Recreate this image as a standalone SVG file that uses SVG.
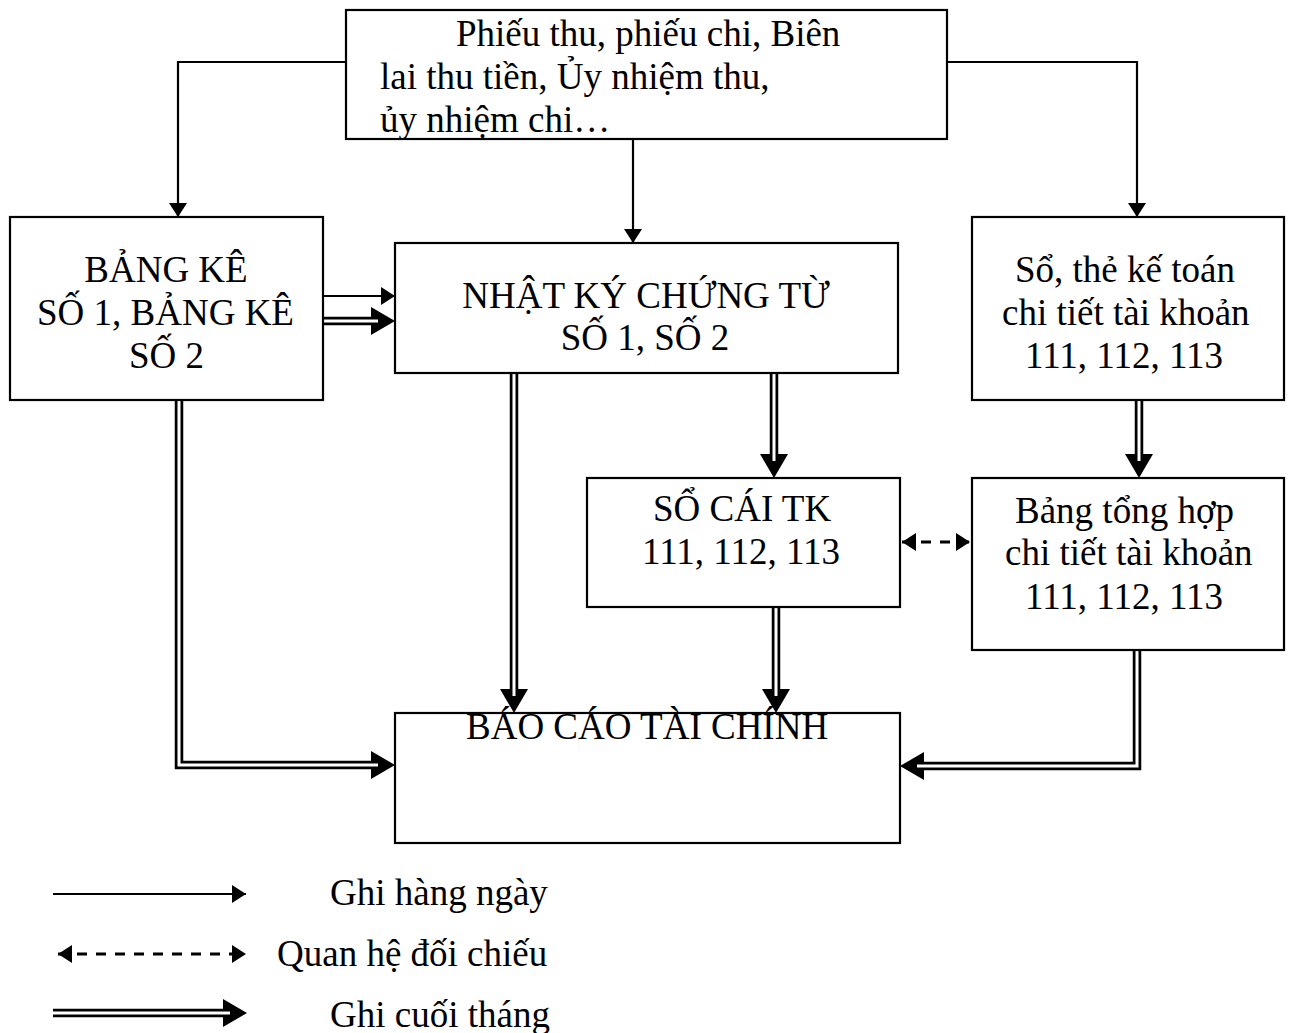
<svg xmlns="http://www.w3.org/2000/svg" width="1291" height="1033" viewBox="0 0 1291 1033">
<style>
.box{fill:#fff;stroke:#000;stroke-width:2.2}
.t{font-family:"Liberation Serif","Times New Roman",serif;font-size:37px;fill:#000}
.m{text-anchor:middle}
.s{fill:none;stroke:#000;stroke-width:2.2}
.d{fill:none;stroke:#000;stroke-width:3;stroke-dasharray:10 9}
.dblo{fill:none;stroke:#000;stroke-width:8.5;stroke-linejoin:miter}
.dbli{fill:none;stroke:#fff;stroke-width:3;stroke-linejoin:miter}
</style>
<defs>
<marker id="a1" markerUnits="userSpaceOnUse" markerWidth="16" markerHeight="20" refX="14" refY="9" orient="auto">
<path d="M0,0 L14,9 L0,18 Z" fill="#000"/>
</marker>
<marker id="a2" markerUnits="userSpaceOnUse" markerWidth="26" markerHeight="30" refX="0" refY="14" orient="auto">
<path d="M0,0 L24,14 L0,28 Z" fill="#000"/>
</marker>
<marker id="ad" markerUnits="userSpaceOnUse" markerWidth="16" markerHeight="20" refX="14" refY="9" orient="auto-start-reverse">
<path d="M0,0 L14,9 L0,18 Z" fill="#000"/>
</marker>
</defs>
<g id="connectors">
<path class="s" d="M346,62 H178 V217" marker-end="url(#a1)"/>
<path class="s" d="M947,62 H1137 V217" marker-end="url(#a1)"/>
<path class="s" d="M633,139 V243" marker-end="url(#a1)"/>
<path class="s" d="M323,296 H395" marker-end="url(#a1)"/>
<path class="dblo" d="M323,321 H371" marker-end="url(#a2)"/>
<path class="dbli" d="M323,321 H378"/>
<path class="dblo" d="M514,373 V689" marker-end="url(#a2)"/>
<path class="dbli" d="M514,373 V696"/>
<path class="dblo" d="M774,373 V454" marker-end="url(#a2)"/>
<path class="dbli" d="M774,373 V461"/>
<path class="dblo" d="M776,607 V689" marker-end="url(#a2)"/>
<path class="dbli" d="M776,607 V696"/>
<path class="dblo" d="M1139,400 V454" marker-end="url(#a2)"/>
<path class="dbli" d="M1139,400 V461"/>
<path class="dblo" d="M179,400 V765 H371" marker-end="url(#a2)"/>
<path class="dbli" d="M179,400 V765 H378"/>
<path class="dblo" d="M1137,650 V766 H924" marker-end="url(#a2)"/>
<path class="dbli" d="M1137,650 V766 H917"/>
<path class="d" d="M902,542 H970" marker-start="url(#ad)" marker-end="url(#ad)"/>
</g>
<g id="n-top">
<rect class="box" x="346" y="10" width="601" height="129"/>
<text class="t" x="456" y="46">Phiếu thu, phiếu chi, Biên</text>
<text class="t" x="380" y="89">lai thu tiền, Ủy nhiệm thu,</text>
<text class="t" x="380" y="132">ủy nhiệm chi…</text>
</g>
<g id="n-bangke">
<rect class="box" x="10" y="217" width="313" height="183"/>
<text class="t m" x="166" y="282">BẢNG KÊ</text>
<text class="t" x="37" y="325">SỐ 1, BẢNG KÊ</text>
<text class="t" x="129" y="368">SỐ 2</text>
</g>
<g id="n-nhatky">
<rect class="box" x="395" y="243" width="503" height="130"/>
<text class="t m" x="646" y="308">NHẬT KÝ CHỨNG TỪ</text>
<text class="t m" x="645" y="350">SỐ 1, SỐ 2</text>
</g>
<g id="n-sothe">
<rect class="box" x="972" y="217" width="312" height="183"/>
<text class="t" x="1015" y="282">Sổ, thẻ kế toán</text>
<text class="t" x="1002" y="325">chi tiết tài khoản</text>
<text class="t" x="1025" y="368">111, 112, 113</text>
</g>
<g id="n-socai">
<rect class="box" x="587" y="478" width="313" height="129"/>
<text class="t" x="653" y="521">SỔ CÁI TK</text>
<text class="t" x="642" y="564">111, 112, 113</text>
</g>
<g id="n-tonghop">
<rect class="box" x="972" y="478" width="312" height="172"/>
<text class="t" x="1015" y="523">Bảng tổng hợp</text>
<text class="t" x="1005" y="565">chi tiết tài khoản</text>
<text class="t" x="1025" y="609">111, 112, 113</text>
</g>
<g id="n-baocao">
<rect class="box" x="395" y="713" width="505" height="130"/>
<text class="t" x="466" y="739">BÁO CÁO TÀI CHÍNH</text>
</g>
<g id="legend">
<path class="s" d="M53,894 H246" marker-end="url(#a1)"/>
<text class="t" x="330" y="905">Ghi hàng ngày</text>
<path class="d" d="M58,954 H246" marker-start="url(#ad)" marker-end="url(#ad)"/>
<text class="t" x="277" y="966">Quan hệ đối chiếu</text>
<path class="dblo" d="M53,1013 H223" marker-end="url(#a2)"/>
<path class="dbli" d="M53,1013 H230"/>
<text class="t" x="330" y="1027">Ghi cuối tháng</text>
</g>
</svg>
